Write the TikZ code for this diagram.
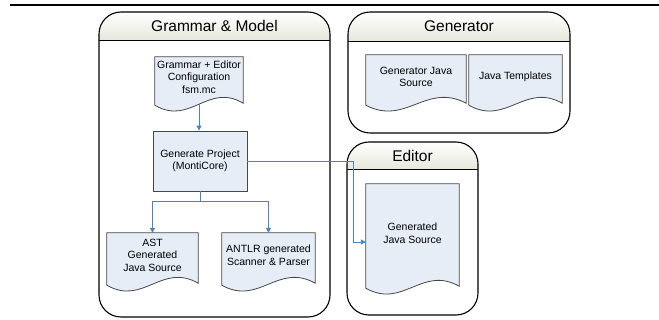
\documentclass[tikz,border=0pt]{standalone}
\usepackage{fontspec}
\setmainfont{Liberation Sans}
\usetikzlibrary{arrows.meta,calc,backgrounds}

\definecolor{flowblue}{RGB}{79,129,189}
\definecolor{docfill}{RGB}{231,237,247}
\definecolor{docedge}{RGB}{70,70,70}
\definecolor{headtint}{RGB}{230,232,219}

\tikzset{
  doc/.style={minimum width=#1, minimum height=44pt, inner sep=0pt, align=center,
    font=\fontsize{10.5}{12.5}\selectfont},
  docline/.style={draw=docedge, fill=docfill, line width=0.8pt},
  procbox/.style={draw=docedge, fill=docfill, line width=0.8pt, minimum width=94pt,
    minimum height=60pt, align=center, font=\fontsize{10.5}{12.5}\selectfont},
  flow/.style={draw=flowblue, line width=0.9pt, -{Triangle[length=5pt,width=5pt]}},
  paneltitle/.style={font=\fontsize{15.5}{18}\selectfont},
}

% document outline with a wavy bottom edge round a node
\newcommand{\docframe}[2]{%
  \draw[docline] (#1.north west) -- (#1.north east)
    -- ($(#1.south east)+(0,#2-2)$)
    .. controls ($(#1.south west)!0.6!(#1.south east)+(0,#2-23)$)
    and ($(#1.south west)!0.4!(#1.south east)+(0,#2+21)$)
    .. ($(#1.south west)+(0,#2)$) -- cycle;}

% rounded panel with shaded header: x1 y1 x2 y2 header
\newcommand{\panelbox}[5]{%
  \begin{scope}
    \clip[rounded corners=22pt] (#1,#2) rectangle (#3,#4);
    \shade[top color=white, bottom color=headtint] (#1,#2) rectangle (#3,#5);
  \end{scope}
  \draw[line width=1.1pt, rounded corners=22pt] (#1,#2) rectangle (#3,#4);
  \draw[line width=0.9pt] (#1,#5) -- (#3,#5);}

\begin{document}
\begin{tikzpicture}[x=1pt,y=-1pt]
\useasboundingbox (0,0) rectangle (659,320);
\draw[line width=2.5pt] (10,5) -- (659,5);

% panels
\panelbox{99}{12}{330}{317}{40}
\panelbox{348}{12}{570}{133}{41}
\panelbox{347}{142}{478}{315}{169}
\node[paneltitle] (gmtitle) at (214.5,26) {Grammar \& Model};
\node[paneltitle] (gentitle) at (459,26.5) {Generator};
\node[paneltitle] (edtitle) at (412.5,155.5) {Editor};

% grammar and model
\node[doc=88pt, minimum height=40pt] (gramdoc) at (199,77) {Grammar + Editor\\Configuration\\fsm.mc};
\node[procbox] (gen) at (200,161) {Generate Project\\(MontiCore)};
\node[doc=91pt] (ast) at (152.5,255) {AST\\Generated\\Java Source};
\node[doc=93pt] (antlr) at (268.5,255) {ANTLR generated\\Scanner \& Parser};

% generator
\node[doc=100pt] (gjs) at (416,77) {Generator Java\\Source};
\node[doc=93pt] (jt) at (515.5,77) {Java Templates};

% editor
\node[doc=93pt, minimum height=98pt] (edoc) at (412.5,233) {Generated\\Java Source};

\begin{scope}[on background layer]
  \docframe{gramdoc}{8}
  \docframe{ast}{8}
  \docframe{antlr}{8}
  \docframe{gjs}{6}
  \docframe{jt}{6}
  \docframe{edoc}{6}
\end{scope}

\draw[flow, shorten <=7pt] (gramdoc.south) -- (gramdoc.south |- gen.north);
\draw[flow] (gen.south) -- ++(0,10) -| (ast.north);
\draw[flow] (gen.south) -- ++(0,10) -| (antlr.north);
\draw[flow] (gen.east) -- ++(106,0) |- ([yshift=-9pt]edoc.west);
\end{tikzpicture}
\end{document}
